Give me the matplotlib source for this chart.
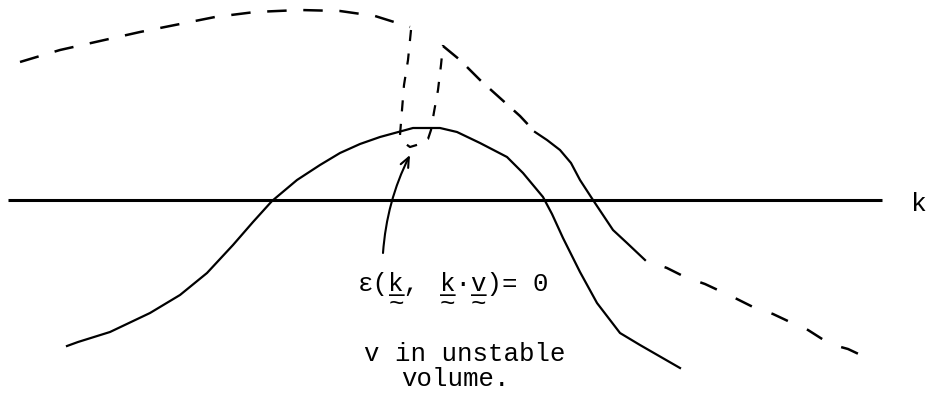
import matplotlib.pyplot as plt

plt.rcParams['lines.scale_dashes'] = False
mono = ['Liberation Mono', 'DejaVu Sans Mono', 'DejaVu Sans']

# k axis
axis_x = [8, 882]
axis_y = [200, 200]

# solid curve (bell)
bell_x = [67, 78, 110, 150, 180, 207, 233, 253, 272, 297, 320, 340, 360, 380,
          413, 440, 457, 480, 507, 523, 543, 552, 563, 580, 597, 620, 640, 680]
bell_y = [346, 342, 332, 313, 295, 273, 245, 222, 201, 180, 165, 153, 144, 137,
          128, 128, 132, 143, 157, 173, 197, 214, 238, 272, 303, 333, 345, 368]

# dashed curve: upper arc
arc_x = [20, 60, 100, 140, 175, 215, 255, 300, 340, 375, 410]
arc_y = [62, 50, 41, 32, 25, 17, 12, 10, 11, 16, 27]

# dashed curve: the dip down to the bell and back up
dip_x = [411, 410, 408, 404, 402, 400, 403, 410, 420, 428, 431, 434, 438, 441, 443]
dip_y = [30, 40, 60, 85, 110, 135, 142, 147, 144, 139, 130, 112, 90, 65, 45]

# dashed curve: descending limb, solid middle part, dashed tail
desc_x = [443, 460, 480, 500, 520, 535]
desc_y = [46, 60, 80, 98, 116, 132]
mid_x = [535, 547, 560, 571, 580, 593, 603, 613, 627, 645]
mid_y = [132, 140, 150, 163, 180, 200, 215, 230, 243, 260]
tail_x = [645, 667, 685, 705, 735, 753, 773, 790, 808, 830, 848, 865]
tail_y = [260, 268, 277, 284, 298, 307, 314, 322, 330, 344, 349, 357]

fig = plt.figure(figsize=(9.33, 3.98), dpi=100)
ax = fig.add_axes([0, 0, 1, 1])
ax.set_xlim(0, 933)
ax.set_ylim(398, 0)
ax.axis('off')

ax.plot(axis_x, axis_y, color='black', lw=2.2, solid_capstyle='butt')
ax.plot(bell_x, bell_y, color='black', lw=1.6, solid_joinstyle='round')
ax.plot(arc_x, arc_y, color='black', lw=1.8, dashes=(14, 12))
ax.plot(dip_x, dip_y, color='black', lw=1.6, dashes=(8, 9))
ax.plot(desc_x, desc_y, color='black', lw=1.8, dashes=(14, 9))
ax.plot(mid_x, mid_y, color='black', lw=1.6, solid_joinstyle='round')
ax.plot(tail_x, tail_y, color='black', lw=1.8, linestyle=(13, (13, 15)))

ax.text(911, 211, 'k', family=mono, fontsize=19, va='baseline', ha='left')

# ε(k, k·v) = 0 with underlined, tilded vectors
fs = 18.5
ax.text(358, 291, 'ε(k,', family=mono, fontsize=fs, va='baseline')
ax.text(358, 293, '  _ ', family=mono, fontsize=fs, va='baseline')
ax.text(358, 311, '  ~ ', family=mono, fontsize=fs, va='baseline')
ax.text(440, 291, 'k·v)= 0', family=mono, fontsize=fs, va='baseline')
ax.text(440, 293, '_ _', family=mono, fontsize=fs, va='baseline')
ax.text(440, 311, '~ ~', family=mono, fontsize=fs, va='baseline')

ax.text(364, 361, 'v in unstable', family=mono, fontsize=fs, va='baseline')
ax.text(401, 386, 'volume.', family=mono, fontsize=fs, va='baseline')

ax.annotate('', xy=(410, 155), xytext=(383, 253),
            arrowprops=dict(arrowstyle='->,head_length=0.7,head_width=0.3',
                            connectionstyle='arc3,rad=-0.1', lw=1.5,
                            color='black', shrinkA=0, shrinkB=0))

fig.savefig('out.png', dpi=100, facecolor='white')
